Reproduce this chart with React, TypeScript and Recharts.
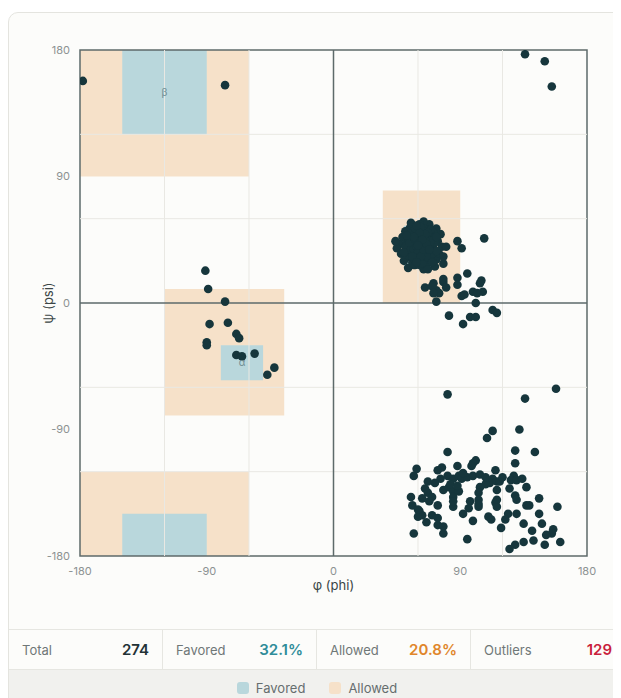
import {
  ScatterChart,
  Scatter,
  XAxis,
  YAxis,
  ReferenceArea,
  ReferenceLine,
} from 'recharts';

// backbone dihedral angles [phi, psi] per residue, grouped by where they land
const betaPoints = [
  [-178, 158], [-77, 155],
];

const topRightPoints = [
  [136, 177], [150, 172], [155, 154],
];

const alphaPoints = [
  [-91, 23], [-89, 10], [-77, 1], [-88, -15], [-75, -14], [-69, -22], [-67, -25],
  [-90, -28], [-90, -30], [-69, -37], [-65, -38], [-56, -36], [-42, -46], [-47, -51],
];

const leftHandedCore = [
  [47, 42], [45, 39], [48, 35], [50, 30], [53, 25], [57, 27], [64, 24], [72, 26], [73, 31],
  [75, 35], [77, 40], [74, 44], [76, 49], [73, 53], [68, 56], [64, 58], [61, 56], [57, 55],
  [54, 53], [51, 51], [49, 47], [55, 57], [66, 52],
  [52, 44], [53, 40], [54, 36], [55, 32], [56, 29], [58, 30], [59, 34], [60, 38], [61, 42], [62, 46],
  [63, 50], [60, 52], [57, 50], [55, 47], [57, 44], [58, 41], [56, 39], [57, 35], [60, 32], [62, 29],
  [64, 32], [65, 36], [66, 40], [67, 44], [68, 48], [66, 51], [64, 53], [62, 49], [60, 46], [59, 43],
  [61, 39], [63, 35], [65, 31], [67, 29], [69, 32], [70, 35], [71, 39], [72, 43], [70, 47], [71, 50],
  [69, 52], [67, 37], [68, 41], [64, 43], [63, 40], [62, 37], [58, 37], [59, 48], [56, 42], [54, 49],
  [53, 46], [51, 40], [53, 34], [58, 27], [61, 27], [63, 28], [66, 33], [69, 44], [73, 47], [73, 37],
  [70, 29], [61, 35], [64, 47], [66, 48], [58, 53], [62, 54], [55, 38], [54, 43], [65, 45], [67, 50],
  [57, 38], [59, 40], [61, 44], [63, 42], [60, 36], [62, 33], [58, 45], [56, 33], [64, 38], [66, 42],
  [65, 49], [61, 50], [59, 29], [63, 45], [60, 41], [57, 47], [50, 36], [52, 48], [59, 55], [68, 38],
  [78, 28], [80, 40], [88, 44], [91, 39], [107, 46], [44, 44], [78, 33], [67, 24],
];

const leftHandedTail = [
  [65, 11], [71, 14], [73, 9], [75, 7], [78, 15], [73, 1], [88, 18], [88, 13], [95, 21], [105, 16],
  [104, 14], [106, 8], [99, 8], [91, 5], [101, 0], [82, -9], [92, -15], [97, -10], [101, -10], [113, -5],
  [116, -7], [70, 12], [71, 7], [78, 17], [80, 11], [93, 6], [102, 7],
];

const lowerRightPoints = [
  [81, -65], [158, -61], [136, -68], [113, -91], [109, -96], [132, -90], [81, -106], [129, -105], [143, -106], [129, -114],
  [101, -112], [99, -114], [98, -116], [88, -116], [77, -117], [74, -119], [59, -118], [57, -123], [115, -119], [128, -123],
  [126, -126], [76, -125], [81, -123], [85, -125], [89, -123], [91, -125], [95, -124], [99, -123], [113, -125], [111, -128],
  [116, -127], [118, -127], [108, -129], [104, -131], [65, -132], [67, -135], [78, -133], [82, -131], [85, -134], [89, -134],
  [85, -138], [116, -133], [125, -132], [129, -137], [137, -131], [55, -138], [63, -139], [70, -138], [103, -135], [103, -140],
  [97, -141], [130, -140], [146, -139], [56, -144], [68, -141], [74, -144], [85, -145], [103, -145], [115, -142], [116, -145],
  [137, -144], [139, -144], [159, -145], [61, -148], [70, -151], [63, -151], [60, -152], [74, -153], [99, -155], [110, -152],
  [112, -154], [124, -150], [122, -154], [135, -157], [148, -157], [74, -158], [78, -159], [141, -162], [156, -161], [155, -164],
  [57, -164], [78, -164], [95, -168], [142, -169], [135, -170], [150, -172], [161, -170], [129, -172], [125, -175], [130, -126],
  [83, -129], [88, -130], [103, -143], [116, -140], [92, -121], [104, -122], [108, -124], [120, -124], [134, -125], [85, -141],
  [72, -128], [67, -127], [92, -150], [96, -146], [130, -150], [119, -160], [146, -150], [151, -165], [66, -156], [60, -147],
];

// favored / allowed boxes as [phi1, phi2, psi1, psi2, label]
const favoredRegions: [number, number, number, number, string][] = [
  [-150, -90, 120, 180, 'β'],
  [-150, -90, -180, -150, ''],
  [-80, -50, -55, -30, 'α'],
  [50, 70, 25, 55, ''],
];

const allowedRegions: [number, number, number, number][] = [
  [-180, -60, 90, 180],
  [-180, -60, -180, -120],
  [-120, -35, -80, 10],
  [35, 90, 0, 80],
];

const axisTicks = [-180, -90, 0, 90, 180];
const gridValues = [-120, -60, 60, 120];

const stats = [
  { label: 'Total', value: '274', color: '#223236' },
  { label: 'Favored', value: '32.1%', color: '#2f8c99' },
  { label: 'Allowed', value: '20.8%', color: '#e0862b' },
  { label: 'Outliers', value: '129', color: '#c91f3d' },
];

const FAVORED = '#b9d7dc';
const ALLOWED = '#f6e1c9';
const DOT = '#16363c';
const FRAME = '#5d6a6a';

const points = [
  ...betaPoints,
  ...topRightPoints,
  ...alphaPoints,
  ...leftHandedCore,
  ...leftHandedTail,
  ...lowerRightPoints,
].map(([phi, psi]) => ({ phi, psi }));

export default function App() {
  return (
    <div style={{ width: 613, overflow: 'hidden', marginTop: 4, fontFamily: 'Inter, "Noto Sans", sans-serif' }}>
      <div
        style={{
          width: 616,
          border: '1px solid #e4e4df',
          borderRadius: 10,
          background: '#fcfcfa',
          overflow: 'hidden',
        }}
      >
        <ScatterChart width={600} height={616} margin={{ top: 37, right: 22, left: 31, bottom: 53 }}>
          <XAxis
            type="number"
            dataKey="phi"
            domain={[-180, 180]}
            ticks={axisTicks}
            allowDataOverflow
            axisLine={false}
            tickLine={false}
            tickMargin={5}
            height={20}
            tick={{ fill: '#8c9292', fontSize: 11 }}
            label={{ value: 'φ (phi)', position: 'bottom', offset: 5, fill: '#3b4646', fontSize: 13 }}
          />
          <YAxis
            type="number"
            dataKey="psi"
            domain={[-180, 180]}
            ticks={axisTicks}
            allowDataOverflow
            axisLine={false}
            tickLine={false}
            tickMargin={4}
            width={40}
            tick={{ fill: '#8c9292', fontSize: 11 }}
            label={{
              value: 'ψ (psi)',
              angle: -90,
              position: 'insideLeft',
              offset: 8,
              fill: '#3b4646',
              fontSize: 13,
              style: { textAnchor: 'middle' },
            }}
          />
          {allowedRegions.map(([x1, x2, y1, y2], i) => (
            <ReferenceArea key={`a${i}`} x1={x1} x2={x2} y1={y1} y2={y2} fill={ALLOWED} fillOpacity={1} stroke="none" />
          ))}
          {favoredRegions.map(([x1, x2, y1, y2, name], i) => (
            <ReferenceArea
              key={`f${i}`}
              x1={x1}
              x2={x2}
              y1={y1}
              y2={y2}
              fill={FAVORED}
              fillOpacity={1}
              stroke="none"
              label={name ? { value: name, position: 'center', fill: '#6f8c92', fontSize: 10 } : undefined}
            />
          ))}
          {gridValues.map((v) => (
            <ReferenceLine key={`gx${v}`} x={v} stroke="#e9e8e3" strokeWidth={1} />
          ))}
          {gridValues.map((v) => (
            <ReferenceLine key={`gy${v}`} y={v} stroke="#e9e8e3" strokeWidth={1} />
          ))}
          <ReferenceLine x={0} stroke={FRAME} strokeWidth={1.5} />
          <ReferenceLine y={0} stroke={FRAME} strokeWidth={1.5} />
          <ReferenceArea x1={-180} x2={180} y1={-180} y2={180} fill="none" stroke={FRAME} strokeWidth={1.5} />
          <Scatter
            data={points}
            isAnimationActive={false}
            shape={(p: any) => <circle cx={p.cx} cy={p.cy} r={4.3} fill={DOT} />}
          />
        </ScatterChart>
        <div style={{ display: 'flex', height: 40, boxSizing: 'border-box', borderTop: '1px solid #e6e6e1' }}>
          {stats.map((s, i) => (
            <div
              key={s.label}
              style={{
                flex: '0 0 154px',
                boxSizing: 'border-box',
                display: 'flex',
                alignItems: 'center',
                justifyContent: 'space-between',
                padding: '0 13px 0 13px',
                borderRight: i < stats.length - 1 ? '1px solid #e6e6e1' : 'none',
              }}
            >
              <span style={{ fontSize: 13, color: '#6f7777' }}>{s.label}</span>
              <span style={{ fontSize: 15, fontWeight: 600, color: s.color }}>{s.value}</span>
            </div>
          ))}
        </div>
        <div
          style={{
            height: 38,
            background: '#f1f1ee',
            borderTop: '1px solid #e6e6e1',
            display: 'flex',
            alignItems: 'center',
            justifyContent: 'center',
            gap: 24,
            paddingBottom: 2,
            boxSizing: 'border-box',
          }}
        >
          {[
            { name: 'Favored', color: FAVORED },
            { name: 'Allowed', color: ALLOWED },
          ].map((item) => (
            <div key={item.name} style={{ display: 'flex', alignItems: 'center', gap: 7 }}>
              <span style={{ width: 12, height: 12, borderRadius: 3, background: item.color, display: 'inline-block' }} />
              <span style={{ fontSize: 13, color: '#666e6e' }}>{item.name}</span>
            </div>
          ))}
        </div>
      </div>
    </div>
  );
}
